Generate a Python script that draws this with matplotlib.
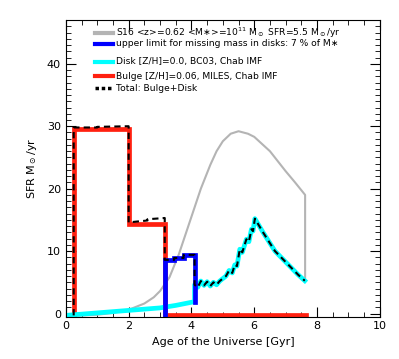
import matplotlib
matplotlib.use("Agg")
import matplotlib.pyplot as plt
from matplotlib.ticker import MultipleLocator

# S16 main-sequence SFH (gray)
s16_x = [0.0, 0.5, 1.0, 1.5, 2.0, 2.5, 2.8, 3.0, 3.3, 3.6, 3.8, 4.0, 4.3, 4.6, 4.8, 5.0,
         5.25, 5.5, 5.8, 6.0, 6.5, 7.0, 7.3, 7.62, 7.62]
s16_y = [-0.3, -0.3, -0.2, 0.1, 0.6, 1.6, 2.6, 3.6, 5.8, 9.5, 12.5, 15.5, 20.0, 23.8, 26.0,
         27.6, 28.8, 29.2, 28.8, 28.3, 26.0, 22.8, 21.0, 19.0, 5.4]

# bulge step SFH (red)
bulge_x = [0.25, 0.25, 2.0, 2.0, 3.15, 3.15, 7.65]
bulge_y = [-0.3, 29.6, 29.6, 14.3, 14.3, -0.3, -0.3]

# disk SFH (cyan)
disk_x = [0.0, 0.5, 1.0, 1.5, 2.0, 2.5, 3.0, 3.5, 4.1, 4.1, 4.2, 4.3, 4.4, 4.5, 4.6, 4.7,
          4.8, 4.9, 5.0, 5.1, 5.2, 5.3, 5.38, 5.45, 5.54, 5.62, 5.75, 5.83, 5.91, 5.96,
          6.02, 6.28, 6.66, 7.03, 7.4, 7.61]
disk_y = [-0.3, -0.1, 0.1, 0.3, 0.5, 0.7, 0.9, 1.3, 1.9, 4.6, 4.2, 5.2, 4.5, 5.1, 4.4, 5.0,
          4.6, 5.2, 5.6, 6.0, 6.9, 6.5, 7.8, 7.6, 10.3, 9.8, 11.9, 11.5, 13.5, 13.2,
          15.2, 13.0, 10.0, 8.1, 6.2, 5.25]

# upper limit for missing disk mass (blue)
blue_x = [3.15, 3.15, 3.45, 3.45, 3.75, 3.75, 4.1, 4.1]
blue_y = [-0.3, 8.6, 8.6, 8.9, 8.9, 9.4, 9.4, 1.9]

# total bulge+disk (black dashed)
tot_x = [0.25, 0.25, 1.0, 1.0, 2.0, 2.0, 2.6, 2.6, 3.15, 3.15, 3.45, 3.45, 3.75, 3.75, 4.1, 4.1]
tot_y = [-0.3, 29.8, 29.8, 29.9, 30.0, 14.6, 14.9, 15.1, 15.3, 8.6, 8.6, 8.9, 8.9, 9.4, 9.4, 4.6]
tot_x = tot_x + disk_x[10:]
tot_y = tot_y + disk_y[10:]

labels = ["S16 <z>=0.62 <M\u2217>=10$^{11}$ M$_\\odot$ SFR=5.5 M$_\\odot$/yr",
          "upper limit for missing mass in disks: 7 % of M\u2217",
          "Disk [Z/H]=0.0, BC03, Chab IMF",
          "Bulge [Z/H]=0.06, MILES, Chab IMF",
          "Total: Bulge+Disk"]

fig = plt.figure(figsize=(3.99, 3.59), dpi=100)
ax = fig.add_axes([0.165, 0.118, 0.787, 0.826])

ax.plot(s16_x, s16_y, color="#b4b4b4", lw=1.5)
ax.plot(bulge_x, bulge_y, color="#ff2010", lw=3.4, solid_joinstyle="miter")
ax.plot(disk_x, disk_y, color="#00ffff", lw=3.4)
ax.plot(blue_x, blue_y, color="#0000ff", lw=3.4, solid_joinstyle="miter")
ax.plot(tot_x, tot_y, color="black", lw=1.5, ls=(0, (3, 2)))

ax.set_xlim(0, 10)
ax.set_ylim(-0.5, 47)
ax.xaxis.set_major_locator(MultipleLocator(2))
ax.xaxis.set_minor_locator(MultipleLocator(0.5))
ax.yaxis.set_major_locator(MultipleLocator(10))
ax.yaxis.set_minor_locator(MultipleLocator(1))
ax.tick_params(which="both", direction="in", top=True, right=True, labelsize=8)
ax.tick_params(which="major", length=7, width=0.8)
ax.tick_params(which="minor", length=3.5, width=0.6)
for s in ax.spines.values():
    s.set_linewidth(0.8)

ax.set_xlabel("Age of the Universe [Gyr]", fontsize=8)
ax.set_ylabel("SFR M$_\\odot$/yr", fontsize=8, labelpad=6)

# legend drawn by hand (IDL style)
leg_colors = ["#b4b4b4", "#0000ff", "#00ffff", "#ff2010", "black"]
leg_y = [0.958, 0.921, 0.859, 0.811, 0.770]
for c, yy, lab in zip(leg_colors, leg_y, labels):
    if c == "black":
        ax.plot([0.092, 0.15], [yy, yy], color=c, lw=2.5, ls=(0, (1, 0.8)),
                transform=ax.transAxes)
    else:
        ax.plot([0.092, 0.15], [yy, yy], color=c, lw=3.0, transform=ax.transAxes)
    ax.text(0.16, yy, lab, transform=ax.transAxes, fontsize=6.6, va="center", ha="left")

fig.savefig("out.png", dpi=100)
